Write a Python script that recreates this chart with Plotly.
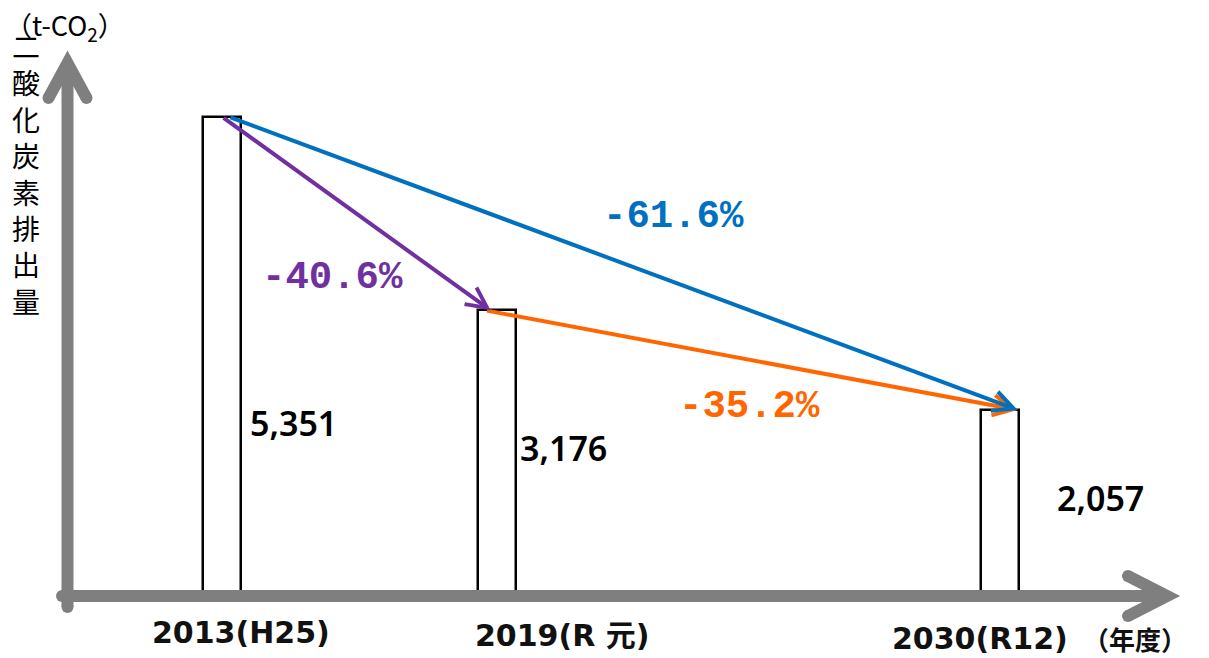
import math
import plotly.graph_objects as go

# ---------------- data ----------------
years = [2013, 2019, 2030]
emissions = [5351, 3176, 2057]
value_labels = ["5,351", "3,176", "2,057"]
year_labels = ["2013(H25)", "2019(R 元)", "2030(R12)"]
change_labels = ["-40.6%", "-35.2%", "-61.6%"]
y_title_chars = ["二", "酸", "化", "炭", "素", "排", "出", "量"]

# ---------------- layout helpers ----------------
W, H = 1209, 658
X0, X1 = 2008.146, 2034.572
Y0, Y1 = -730, 6663
BAR_W = 0.83
GRAY = "#7f7f7f"
BLUE = "#0070C0"
PURPLE = "#7030A0"
ORANGE = "#FF6600"


def pp(x, y):
    return x / W, 1 - y / H


def thick_polyline(pts, w):
    h = w / 2
    segs = []
    for (xa, ya), (xb, yb) in zip(pts[:-1], pts[1:]):
        dx, dy = xb - xa, yb - ya
        L = math.hypot(dx, dy)
        segs.append((-dy / L, dx / L))
    left, right = [], []
    for i, (x, y) in enumerate(pts):
        if i == 0:
            nx, ny = segs[0]
            k = h
        elif i == len(pts) - 1:
            nx, ny = segs[-1]
            k = h
        else:
            n1, n2 = segs[i - 1], segs[i]
            mx, my = n1[0] + n2[0], n1[1] + n2[1]
            ml = math.hypot(mx, my)
            nx, ny = mx / ml, my / ml
            k = h / (nx * n1[0] + ny * n1[1])
        left.append((x + nx * k, y + ny * k))
        right.append((x - nx * k, y - ny * k))
    poly = left + right[::-1]
    d = "M " + " L ".join(f"{pp(x, y)[0]:.5f},{pp(x, y)[1]:.5f}" for x, y in poly) + " Z"
    return dict(type="path", xref="paper", yref="paper", path=d,
                fillcolor=GRAY, line=dict(width=0), layer="above")


def cap(x, y, w):
    h = w / 2
    a = pp(x - h, y + h)
    b = pp(x + h, y - h)
    return dict(type="circle", xref="paper", yref="paper", x0=a[0], y0=a[1], x1=b[0], y1=b[1],
                fillcolor=GRAY, line=dict(width=0), layer="above")


fig = go.Figure()
fig.add_trace(go.Bar(
    x=years, y=emissions, width=BAR_W,
    marker=dict(color="white", line=dict(color="black", width=2.5)),
    hoverinfo="skip",
))

# ---------------- axes drawn as gray arrows ----------------
SW = 12
shapes = [
    thick_polyline([(67.5, 607), (67.5, 64)], SW),
    thick_polyline([(48.5, 98), (67.5, 63), (86.5, 98)], SW),
    thick_polyline([(62, 596), (1166, 596)], SW),
    thick_polyline([(1128, 576), (1167, 596), (1128, 616)], SW),
    cap(67.5, 607, SW), cap(62, 596, SW),
    cap(48.5, 98, SW), cap(86.5, 98, SW),
    cap(1128, 576, SW), cap(1128, 616, SW),
]

annotations = []

# ---------------- change arrows ----------------
arrow_defs = [
    # (tail idx, tail dx, head idx, head dx, color)
    (1, -0.24, 2, 0.39, ORANGE),
    (0, 0.15, 2, 0.39, BLUE),
    (0, 0.0, 1, -0.13, PURPLE),
]
for ti, tdx, hi, hdx, col in arrow_defs:
    annotations.append(dict(
        x=years[hi] + hdx, y=emissions[hi], xref="x", yref="y",
        ax=years[ti] + tdx, ay=emissions[ti], axref="x", ayref="y",
        text="", showarrow=True, arrowhead=5, arrowsize=1, arrowwidth=4,
        arrowcolor=col, standoff=0, startstandoff=0,
    ))

# ---------------- value labels ----------------
val_xshift = [26, 21, 55]
val_yshift = [170, 145, 95]
for yr, lab, xs, ys in zip(years, value_labels, val_xshift, val_yshift):
    annotations.append(dict(
        x=yr, y=0, xref="x", yref="y", text=lab, showarrow=False,
        xanchor="left", yanchor="middle", xshift=xs, yshift=ys,
        font=dict(family="Noto Sans", size=34, color="black", weight=600),
    ))

# ---------------- category labels ----------------
cat_pos = [(241, 632), (562, 635), (980, 638)]
for lab, (cx, cy) in zip(year_labels, cat_pos):
    px, py = pp(cx, cy)
    annotations.append(dict(
        x=px, y=py, xref="paper", yref="paper", text=f"<b>{lab}</b>", showarrow=False,
        xanchor="center", yanchor="middle",
        font=dict(family="DejaVu Sans, Noto Sans CJK JP", size=30, color="#111111"),
    ))
px, py = pp(1135, 638)
annotations.append(dict(
    x=px, y=py, xref="paper", yref="paper", text="<b>（年度）</b>", showarrow=False,
    xanchor="center", yanchor="middle",
    font=dict(family="Noto Sans CJK JP", size=26, color="#111111"),
))

# ---------------- change labels ----------------
chg_pos = [(332, 278, PURPLE), (749, 407, ORANGE), (673, 217, BLUE)]
for lab, (cx, cy, col) in zip(change_labels, chg_pos):
    px, py = pp(cx, cy)
    annotations.append(dict(
        x=px, y=py, xref="paper", yref="paper", text=f"<b>{lab}</b>", showarrow=False,
        xanchor="center", yanchor="middle",
        font=dict(family="Liberation Mono", size=39, color=col),
    ))

# ---------------- y-axis title ----------------
px, py = pp(65, 26)
annotations.append(dict(
    x=px, y=py, xref="paper", yref="paper", text="（t-CO<sub>2</sub>）", showarrow=False,
    xanchor="center", yanchor="middle",
    font=dict(family="Noto Sans CJK JP", size=27, color="black"),
))
px, py = pp(26, 173)
annotations.append(dict(
    x=px, y=py, xref="paper", yref="paper", text="<br>".join(y_title_chars), showarrow=False,
    xanchor="center", yanchor="middle",
    font=dict(family="Noto Sans CJK JP", size=28, color="black"),
))

fig.update_layout(
    width=W, height=H,
    margin=dict(l=0, r=0, t=0, b=0),
    paper_bgcolor="white", plot_bgcolor="white",
    showlegend=False,
    xaxis=dict(range=[X0, X1], visible=False, fixedrange=True),
    yaxis=dict(range=[Y0, Y1], visible=False, fixedrange=True),
    shapes=shapes,
    annotations=annotations,
    bargap=0,
)

fig.write_html(
    "out.html",
    config={"displayModeBar": False},
    post_script="document.body.style.margin='0';document.body.style.overflow='hidden';",
)
